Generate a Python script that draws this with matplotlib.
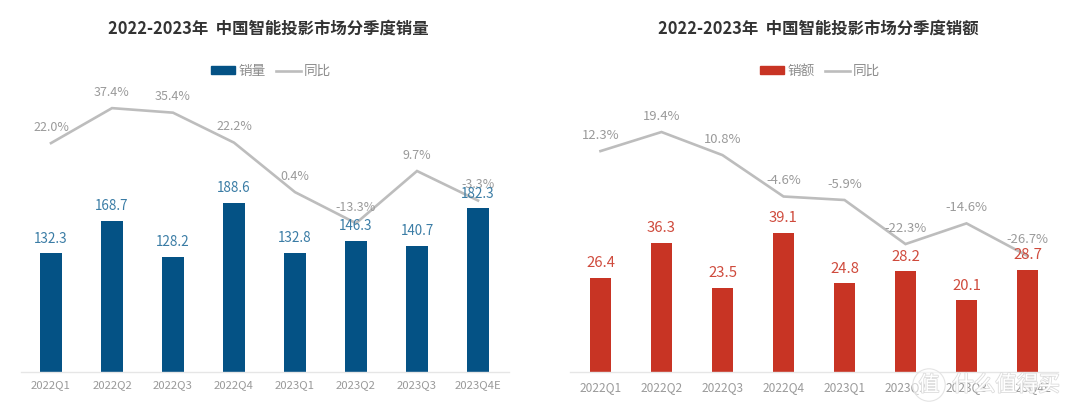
import matplotlib
matplotlib.use("Agg")
import matplotlib.pyplot as plt
import matplotlib.patheffects as pe
from matplotlib.lines import Line2D
from matplotlib.patches import Patch

W, H = 1080, 411
quarters_left = ["2022Q1", "2022Q2", "2022Q3", "2022Q4", "2023Q1", "2023Q2", "2023Q3", "2023Q4E"]
volume = [132.3, 168.7, 128.2, 188.6, 132.8, 146.3, 140.7, 182.3]
volume_yoy = [22.0, 37.4, 35.4, 22.2, 0.4, -13.3, 9.7, -3.3]
quarters_right = ["2022Q1", "2022Q2", "2022Q3", "2022Q4", "2023Q1", "2023Q2", "2023Q3", "2023Q4E"]
sales = [26.4, 36.3, 23.5, 39.1, 24.8, 28.2, 20.1, 28.7]
sales_yoy = [12.3, 19.4, 10.8, -4.6, -5.9, -22.3, -14.6, -26.7]

CJK = ["Noto Sans CJK SC", "DejaVu Sans"]
GREY = "#bdbdbd"
LABEL = "#9a9a9a"


def panel(x0, x1, title, cx, lx, cats, bars, yoy, color, bar_name, bar_lim, line_lim, txt_color,
          fs_bar, fs_yoy, fs_tick, tick_pad):
    top, base = 60, 371.7
    ax = fig.add_axes([x0 / W, 1 - base / H, (x1 - x0) / W, (base - top) / H])
    ax.bar(range(len(cats)), bars, width=0.36, color=color, zorder=2)
    ax.set_xlim(-0.5, len(cats) - 0.5)
    ax.set_ylim(0, bar_lim)
    ax.set_yticks([])
    ax.set_xticks(range(len(cats)))
    ax.set_xticklabels(cats, fontsize=fs_tick, color=LABEL, family=CJK)
    ax.tick_params(axis="x", length=0, pad=tick_pad)
    for s in ("top", "left", "right"):
        ax.spines[s].set_visible(False)
    ax.spines["bottom"].set_color("#e6e6e6")
    ax.spines["bottom"].set_linewidth(1.0)
    ax2 = ax.twinx()
    ax2.plot(range(len(cats)), yoy, color=GREY, lw=1.9, zorder=3, solid_joinstyle="miter")
    ax2.set_ylim(*line_lim)
    ax2.set_yticks([])
    for s in ax2.spines.values():
        s.set_visible(False)
    for i, v in enumerate(yoy):
        ax2.annotate(f"{v:.1f}%", (i, v), xytext=(0, 11.5), textcoords="offset points",
                     ha="center", va="center", fontsize=fs_yoy, color=LABEL, family=CJK, zorder=5)
    # bar labels are drawn on the upper axes so they stay above the line
    for i, v in enumerate(bars):
        ax2.annotate(f"{v:.1f}", (i, v), xycoords=ax.transData,
                     xytext=(0, 10.5), textcoords="offset points",
                     ha="center", va="center", fontsize=fs_bar, color=txt_color, family=CJK, zorder=6)
    fig.text(cx / W, 1 - 29 / H, title, ha="center", va="center", fontsize=11.8,
             fontweight="bold", color="#333333", family=CJK)
    handles = [Patch(color=color, label=bar_name), Line2D([0], [0], color=GREY, lw=1.9, label="同比")]
    fig.legend(handles=handles, loc="center", bbox_to_anchor=(lx / W, 1 - 71 / H), ncol=2, frameon=False,
               prop={"family": CJK, "size": 9.8}, labelcolor="#8c8c8c", handlelength=1.8,
               handleheight=0.5, columnspacing=0.75, handletextpad=0.25)


fig = plt.figure(figsize=(W / 100, H / 100), dpi=100, facecolor="white")
panel(20.5, 508.5, "2022-2023年  中国智能投影市场分季度销量", 268, 271, quarters_left, volume, volume_yoy,
      "#045285", "销量", 348, (-78.7, 58.6), "#3a7ca5", 9.7, 9.0, 8.2, 6)
panel(570, 1058, "2022-2023年  中国智能投影市场分季度销额", 818, 820, quarters_right, sales, sales_yoy,
      "#c83424", "销额", 87.6, (-69.8, 46.2), "#cf4a3c", 10.7, 9.4, 8.6, 7)

# site watermark in the lower right corner of the picture
halo = [pe.withStroke(linewidth=1.2, foreground="#dcdcdc")]
fig.text(929 / W, 1 - 385 / H, "值", ha="center", va="center", fontsize=15, color="white", family=CJK,
         path_effects=halo, zorder=20,
         bbox=dict(boxstyle="circle,pad=0.25", fc=(1, 1, 1, 0.55), ec="#e4e4e4", lw=0.8))
fig.text(1006 / W, 1 - 385 / H, "什么值得买", ha="center", va="center", fontsize=15.5, color="white",
         family=CJK, path_effects=halo, zorder=20)
fig.savefig("out.png", dpi=100)
